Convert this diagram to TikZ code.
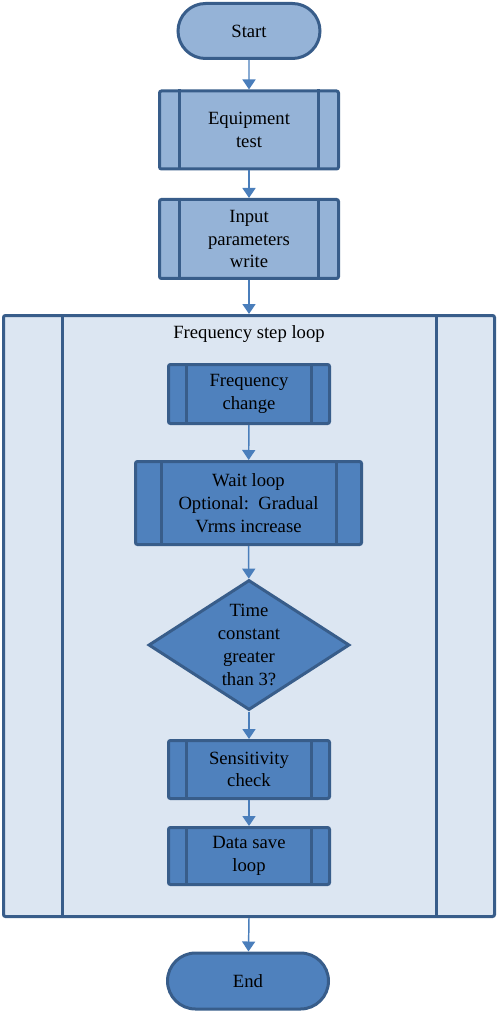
\documentclass[tikz,border=0pt]{standalone}
\usepackage{fontspec}
\setmainfont{Liberation Serif}
\usetikzlibrary{shapes.geometric,shapes.misc,arrows.meta}
\definecolor{edgeblue}{HTML}{385D8A}
\definecolor{lightblue}{HTML}{95B3D7}
\definecolor{midblue}{HTML}{4F81BD}
\definecolor{paleblue}{HTML}{DCE6F2}
\definecolor{arrowblue}{HTML}{4A7EBB}
% two inner bars of a predefined process box
\newcommand{\sidebars}[2]{%
  \draw[bar] ([xshift=#2]#1.north west) -- ([xshift=#2]#1.south west);
  \draw[bar] ([xshift=-#2]#1.north east) -- ([xshift=-#2]#1.south east);}
\begin{document}
\begin{tikzpicture}[x=0.75pt,y=-0.75pt]
	\tikzset{box/.style = {shape=rectangle, draw=edgeblue, line width=2.25pt, rounded corners=1.5pt, inner sep=0pt,
			align=center, font=\fontsize{14}{17}\selectfont},
		terminal/.style = {shape=rounded rectangle, draw=edgeblue, line width=2.25pt, inner sep=0pt,
			font=\fontsize{14}{17}\selectfont},
		decision/.style = {shape=diamond, draw=edgeblue, fill=midblue, line width=2.25pt, inner sep=0pt, aspect=1.53,
			align=center, font=\fontsize{14}{17.25}\selectfont},
		bar/.style = {draw=edgeblue, line width=2.25pt},
		flow/.style = {draw=arrowblue, line width=1.1pt, -{Triangle[width=9.75pt,length=7.5pt]}}}

	\useasboundingbox (0,0) rectangle (498,1012);

	\node[terminal, fill=lightblue, minimum width=142*0.75pt, minimum height=55*0.75pt] (start) at (249,31) {Start};
	\node[box, fill=lightblue, minimum width=179*0.75pt, minimum height=78*0.75pt] (equip) at (249,130) {Equipment\\test};
	\node[box, fill=lightblue, minimum width=179*0.75pt, minimum height=79*0.75pt] (input) at (249,239) {Input\\parameters\\write};

	\node[box, fill=paleblue, minimum width=491*0.75pt, minimum height=601*0.75pt] (loop) at (249,616) {};
	\node[font=\fontsize{14}{17}\selectfont] (looptitle) at (249,334) {Frequency step loop};

	\node[box, fill=midblue, minimum width=161*0.75pt, minimum height=59*0.75pt] (freq) at (249,394) {Frequency\\change};
	\node[box, fill=midblue, minimum width=226*0.75pt, minimum height=83*0.75pt] (wait) at (248.5,503) {Wait loop\\Optional:\ \ Gradual\\Vrms increase};
	\node[decision, minimum width=201*0.75pt, minimum height=130*0.75pt] (tconst) at (249,645) {Time\\constant\\greater\\than 3?};
	\node[box, fill=midblue, minimum width=161*0.75pt, minimum height=58*0.75pt] (sens) at (249,769.5) {Sensitivity\\check};
	\node[box, fill=midblue, minimum width=161*0.75pt, minimum height=57*0.75pt] (save) at (249,856) {Data save\\loop};

	\node[terminal, fill=midblue, minimum width=161*0.75pt, minimum height=56*0.75pt] (end) at (248,981) {End};

	\sidebars{equip}{16pt}
	\sidebars{input}{16pt}
	\sidebars{loop}{45pt}
	\sidebars{freq}{14.6pt}
	\sidebars{wait}{20.25pt}
	\sidebars{sens}{14.6pt}
	\sidebars{save}{14.6pt}

	\draw[flow] (start) -- (equip);
	\draw[flow] (equip) -- (input);
	\draw[flow] (input) -- (loop);
	\draw[flow] (freq) -- (wait);
	\draw[flow] (wait) -- (tconst);
	\draw[flow] (tconst) -- (sens);
	\draw[flow] (sens) -- (save);
	\draw[flow] (loop.south) -- (end);

\end{tikzpicture}
\end{document}
